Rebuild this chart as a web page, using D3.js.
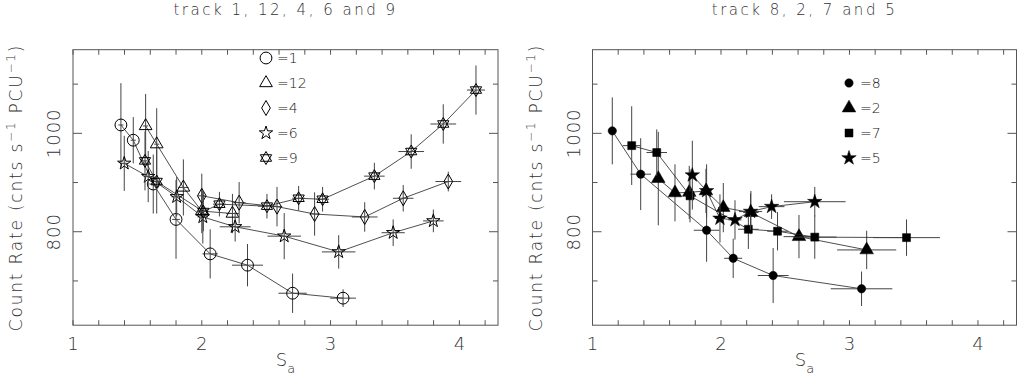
<!DOCTYPE html>
<html>
<head>
<meta charset="utf-8">
<style>
body { margin: 0; background: #fff; }
text { font-family: "DejaVu Sans", sans-serif; font-weight: 200; fill: #333; }
.frame { fill: none; stroke: #555; stroke-width: 1; }
.err { stroke: #444; stroke-width: 1; }
.conn { fill: none; stroke: #222; stroke-width: 0.8; }
</style>
</head>
<body>
<svg width="1018" height="383"></svg>
<script src="https://d3js.org/d3.v7.min.js"></script>
<script>

// rows: [S_a, count rate, S_a error, rate error]
var track1  = [[1.372,1017,0.02,85],[1.468,986,0.02,47],[1.623,897,0.03,60],[1.80,825,0.03,80],
               [2.065,755,0.06,50],[2.355,732,0.12,43],[2.705,675,0.11,40],[3.097,665,0.10,18]];
var track12 = [[1.564,1015,0.02,65],[1.65,978,0.02,73],[1.857,890,0.04,57],[2.0,842,0.03,45],[2.238,837,0.05,40]];
var track4  = [[2.0,873,0.03,45],[2.29,859,0.05,42],[2.584,851,0.04,40],[2.876,836,0.04,44],
               [3.265,830,0.10,30],[3.564,868,0.08,27],[3.914,902,0.10,20]];
var track6  = [[1.398,939,0.03,56],[1.584,912,0.03,52],[1.805,871,0.04,40],[2.008,830,0.04,54],[2.259,810,0.12,30],
               [2.64,791,0.13,47],[3.063,759,0.13,34],[3.486,798,0.09,27],[3.798,822,0.08,23]];
var track9  = [[1.559,944,0.02,60],[1.65,902,0.03,65],[2.012,841,0.04,40],[2.137,856,0.05,25],[2.506,852,0.07,25],
               [2.752,868,0.05,25],[2.938,866,0.05,25],[3.34,913,0.08,27],[3.626,963,0.10,35],[3.875,1019,0.10,40],[4.129,1088,0.07,50]];

var track8  = [[1.154,1005,0.03,68],[1.375,917,0.08,73],[1.888,803,0.10,64],[2.095,746,0.07,40],[2.406,711,0.12,56],[3.094,684,0.24,35]];
var track2  = [[1.512,908,0.02,95],[1.642,879,0.03,58],[1.753,880,0.03,54],[1.883,883,0.04,45],
               [2.018,849,0.04,50],[2.233,839,0.06,44],[2.607,790,0.12,44],[3.134,763,0.23,39]];
var track7  = [[1.305,975,0.07,80],[1.5,961,0.08,47],[1.759,873,0.04,54],[2.213,805,0.08,40],
               [2.44,801,0.08,39],[2.73,789,0.17,44],[3.444,788,0.26,37]];
var track5  = [[1.777,915,0.03,70],[1.888,883,0.04,54],[1.992,827,0.04,49],[2.109,824,0.05,40],
               [2.23,841,0.09,37],[2.394,851,0.10,25],[2.73,861,0.24,30]];

var xTicks = [1, 2, 3, 4];
var yTicks = [800, 1000];
var xDomain = [1, 4.3];
var yDomain = [610, 1170];

var starOfDavid = {
  draw: function(ctx, size) {
    var r = Math.sqrt(size / 1.3), h = r / 2, w = r * Math.sqrt(3) / 2;
    ctx.moveTo(0, -r); ctx.lineTo(w, h); ctx.lineTo(-w, h); ctx.closePath();
    ctx.moveTo(0, r); ctx.lineTo(w, -h); ctx.lineTo(-w, -h); ctx.closePath();
  }
};

var panels = [
  {title: "track 1, 12, 4, 6 and 9", x0: 73, x1: 498, legendX: 266, legendY: 58, filled: false,
   series: [
     {data: track1,  label: "=1",  type: d3.symbolCircle,   size: 110},
     {data: track12, label: "=12", type: d3.symbolTriangle, size: 70},
     {data: track4,  label: "=4",  type: d3.symbolDiamond,  size: 65},
     {data: track6,  label: "=6",  type: d3.symbolStar,     size: 55},
     {data: track9,  label: "=9",  type: starOfDavid,       size: 55}
   ]},
  {title: "track 8, 2, 7 and 5", x0: 592.5, x1: 1016.5, legendX: 849, legendY: 83, filled: true,
   series: [
     {data: track8, label: "=8", type: d3.symbolCircle,   size: 55},
     {data: track2, label: "=2", type: d3.symbolTriangle, size: 80},
     {data: track7, label: "=7", type: d3.symbolSquare,   size: 64},
     {data: track5, label: "=5", type: d3.symbolStar,     size: 65}
   ]}
];

var svg = d3.select("svg");
var plotTop = 49.7, plotBottom = 325.2;

panels.forEach(function(p) {
  var x = d3.scaleLinear().domain(xDomain).range([p.x0, p.x1]);
  var y = d3.scaleLinear().domain(yDomain).range([plotBottom, plotTop]);
  var g = svg.append("g");
  var cx = (p.x0 + p.x1) / 2;

  // ticks on all four sides
  var xt = d3.range(1, 4.3001, 0.2);
  var yt = d3.range(700, 1101, 100);
  g.selectAll(".xb").data(xt).enter().append("line").attr("class", "err")
    .attr("x1", x).attr("x2", x).attr("y1", plotBottom).attr("y2", plotBottom - 5).style("stroke", "#555");
  g.selectAll(".xt").data(xt).enter().append("line").attr("class", "err")
    .attr("x1", x).attr("x2", x).attr("y1", plotTop).attr("y2", plotTop + 5).style("stroke", "#555");
  g.selectAll(".yl").data(yt).enter().append("line").attr("class", "err")
    .attr("y1", y).attr("y2", y).attr("x1", p.x0)
    .attr("x2", function(d) { return p.x0 + (yTicks.indexOf(d) >= 0 ? 9 : 5); }).style("stroke", "#555");
  g.selectAll(".yr").data(yt).enter().append("line").attr("class", "err")
    .attr("y1", y).attr("y2", y).attr("x1", p.x1)
    .attr("x2", function(d) { return p.x1 - (yTicks.indexOf(d) >= 0 ? 9 : 5); }).style("stroke", "#555");

  g.append("rect").attr("class", "frame")
    .attr("x", p.x0).attr("y", plotTop).attr("width", p.x1 - p.x0).attr("height", plotBottom - plotTop);

  g.selectAll(".xl").data(xTicks).enter().append("text")
    .attr("x", x).attr("y", 350).attr("text-anchor", "middle")
    .style("font-size", "18px").text(function(d) { return d; });
  g.selectAll(".ylab").data(yTicks).enter().append("text")
    .attr("transform", function(d) { return "translate(" + (p.x0 - 13) + "," + y(d) + ") rotate(-90)"; })
    .attr("text-anchor", "middle").style("font-size", "18px").style("letter-spacing", "1px")
    .text(function(d) { return d; });

  g.append("text").attr("x", cx).attr("y", 15).attr("text-anchor", "middle")
    .style("font-size", "15px").style("letter-spacing", "2.5px").text(p.title);

  var xl = g.append("text").attr("x", cx).attr("y", 366).attr("text-anchor", "middle").style("font-size", "18px");
  xl.append("tspan").text("S");
  xl.append("tspan").attr("dy", 7).style("font-size", "13px").text("a");

  var yl = g.append("text")
    .attr("transform", "translate(" + (p.x0 - 51) + "," + ((plotTop + plotBottom) / 2) + ") rotate(-90)")
    .attr("text-anchor", "middle").style("font-size", "17px").style("letter-spacing", "1.8px");
  yl.append("tspan").text("Count Rate (cnts s");
  yl.append("tspan").attr("dy", -7).style("font-size", "12px").text("−1");
  yl.append("tspan").attr("dy", 7).text(" PCU");
  yl.append("tspan").attr("dy", -7).style("font-size", "12px").text("−1");
  yl.append("tspan").attr("dy", 7).text(")");

  var line = d3.line().x(function(d) { return x(d[0]); }).y(function(d) { return y(d[1]); });

  p.series.forEach(function(s, i) {
    var sg = g.append("g");
    sg.append("path").attr("class", "conn").attr("d", line(s.data));
    sg.selectAll(".ey").data(s.data).enter().append("line").attr("class", "err")
      .attr("x1", function(d) { return x(d[0]); }).attr("x2", function(d) { return x(d[0]); })
      .attr("y1", function(d) { return y(d[1] - d[3]); }).attr("y2", function(d) { return y(d[1] + d[3]); });
    sg.selectAll(".ex").data(s.data).enter().append("line").attr("class", "err")
      .attr("x1", function(d) { return x(d[0] - d[2]); }).attr("x2", function(d) { return x(d[0] + d[2]); })
      .attr("y1", function(d) { return y(d[1]); }).attr("y2", function(d) { return y(d[1]); });
    var sym = d3.symbol().type(s.type).size(s.size);
    sg.selectAll(".m").data(s.data).enter().append("path")
      .attr("transform", function(d) { return "translate(" + x(d[0]) + "," + y(d[1]) + ")"; })
      .attr("d", sym)
      .style("fill", p.filled ? "#000" : "none")
      .style("stroke", "#000").style("stroke-width", p.filled ? 0.5 : 1);

    var ly = p.legendY + i * 25;
    g.append("path").attr("transform", "translate(" + p.legendX + "," + ly + ")").attr("d", sym)
      .style("fill", p.filled ? "#000" : "none").style("stroke", "#000").style("stroke-width", p.filled ? 0.5 : 1);
    g.append("text").attr("x", p.legendX + 11).attr("y", ly + 5)
      .style("font-size", "14px").style("fill", "#111").text(s.label);
  });
});

</script>
</body>
</html>
